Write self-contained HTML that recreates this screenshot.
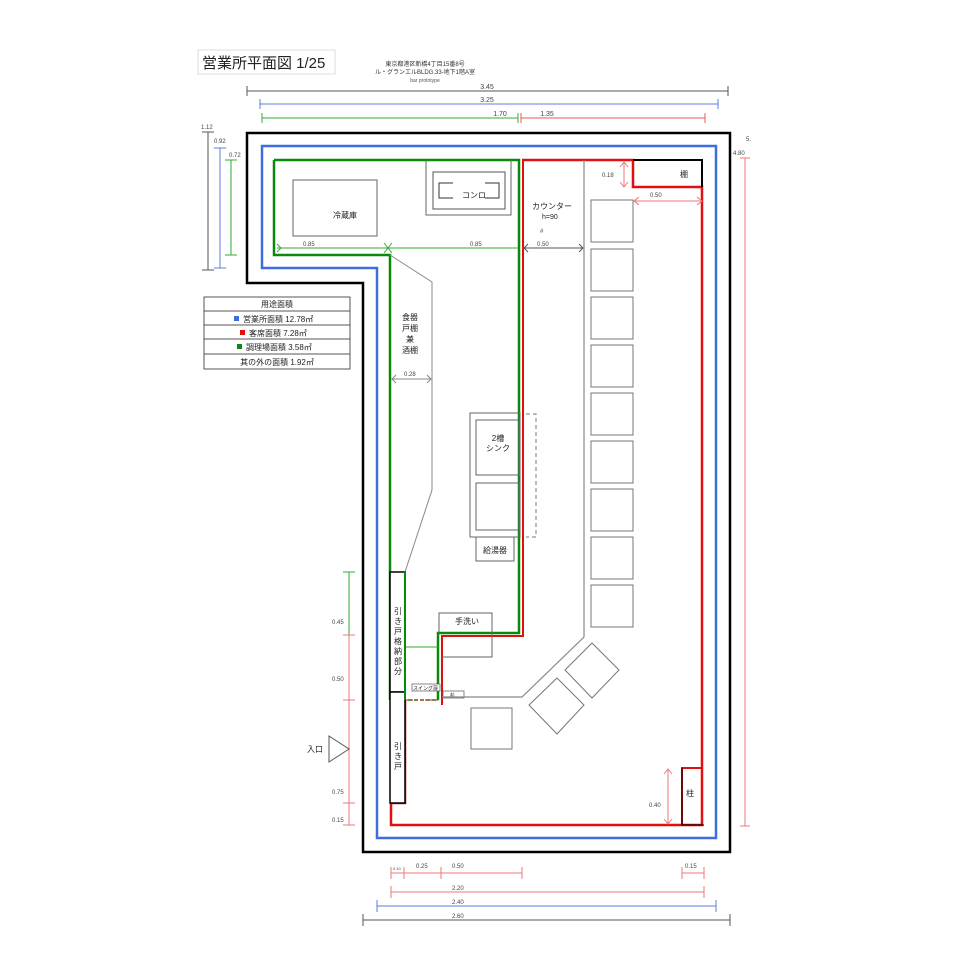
<!DOCTYPE html>
<html><head><meta charset="utf-8"><style>
html,body{margin:0;padding:0;background:#fff;}
svg{display:block;font-family:"Liberation Sans","Noto Sans CJK JP",sans-serif;}
</style></head><body>
<svg width="960" height="960" viewBox="0 0 960 960" xmlns="http://www.w3.org/2000/svg">
<rect width="960" height="960" fill="#fff"/>
<!-- title -->
<rect x="198" y="50" width="137" height="24" fill="#fff" stroke="#ddd"/>
<text x="202" y="68" font-size="15" fill="#222">営業所平面図  1/25</text>
<text x="425" y="66" font-size="6" fill="#333" text-anchor="middle">東京都港区新橋4丁目15番8号</text>
<text x="425" y="74" font-size="6" fill="#333" text-anchor="middle">ル・グランエルBLDG.33-地下1階A室</text>
<text x="425" y="82" font-size="5" fill="#555" text-anchor="middle">bar prototype</text>

<!-- top dims -->
<g stroke-width="1" fill="none">
<path d="M247 91H728M247 86V96M728 86V96" stroke="#555"/>
<path d="M260 104H718M260 99V109M718 99V109" stroke="#5b7fe0"/>
<path d="M262 118H518M262 113V123M518 113V123" stroke="#3a3"/>
<path d="M521 118H705M521 113V123M705 113V123" stroke="#e55"/>
</g>
<g font-size="7" fill="#444" text-anchor="middle">
<text x="487" y="89">3.45</text><text x="487" y="102">3.25</text>
<text x="500" y="116">1.70</text><text x="547" y="116">1.35</text>
</g>
<!-- left top dims -->
<g fill="none">
<path d="M202 132H214M208 132V270M202 270H214" stroke="#555"/>
<path d="M214 148H226M220 148V268M214 268H226" stroke="#5b7fe0"/>
<path d="M225 160H237M231 160V255M225 255H237" stroke="#3a3"/>
</g>
<g font-size="6" fill="#444"><text x="201" y="129">1.12</text><text x="214" y="143">0.92</text><text x="229" y="157">0.72</text></g>
<!-- right dims -->
<path d="M740 158H750M745 158V826M740 826H750" stroke="#e77" fill="none"/>
<text x="733" y="155" font-size="6" fill="#444">4.80</text>
<text x="746" y="141" font-size="6" fill="#444">5.</text>

<!-- black outer -->
<path d="M247 133H730V852H363V283H247Z" fill="none" stroke="#000" stroke-width="2.5"/>
<!-- blue -->
<path d="M262 146H716V838H377V268H262Z" fill="none" stroke="#3d6ee0" stroke-width="2.5"/>
<!-- green -->
<path d="M274 160H519V633H438V700M390 700V255H274V160" fill="none" stroke="#0a8a0a" stroke-width="2.5"/>
<path d="M390 700H438" stroke="#0a8a0a" stroke-width="1.5" stroke-dasharray="4,2"/>
<path d="M390 647H438" stroke="#3a3" stroke-width="1"/>
<!-- red -->
<path d="M522 160H633V187H702V825H391V803H405V700" fill="none" stroke="#e01010" stroke-width="2.5"/>
<path d="M523 160V636H442V705" fill="none" stroke="#e01010" stroke-width="2"/>
<path d="M405 700H440" stroke="#e01010" stroke-width="1" stroke-dasharray="3,2"/>
<path d="M633 160H702V187" fill="none" stroke="#000" stroke-width="2"/>
<text x="680" y="177" font-size="8" fill="#222">棚</text>
<!-- column -->
<path d="M682 825V768H702" fill="none" stroke="#e01010" stroke-width="2"/>
<path d="M682 768V825H704" fill="none" stroke="#000" stroke-width="1"/>
<text x="686" y="796" font-size="8" fill="#222">柱</text>
<path d="M668 770V823M664 774L668 769L672 774M664 819L668 824L672 819" stroke="#e77" fill="none"/>
<text x="649" y="807" font-size="6" fill="#444">0.40</text>
<path d="M624 163V186M620 167L624 162L628 167M620 182L624 187L628 182" stroke="#e77" fill="none"/>
<text x="602" y="177" font-size="6" fill="#444">0.18</text>
<path d="M634 201H702M639 197L634 201L639 205M697 197L702 201L697 205" stroke="#e77" fill="none"/>
<text x="650" y="197" font-size="6" fill="#444">0.50</text>

<!-- fridge -->
<rect x="293" y="180" width="84" height="56" fill="none" stroke="#666"/>
<text x="333" y="218" font-size="8" fill="#222">冷蔵庫</text>
<!-- konro -->
<path d="M426 160V215H511V160" fill="none" stroke="#666"/>
<rect x="433" y="172" width="72" height="37" fill="none" stroke="#555"/>
<path d="M453 183H439V198H453M485 183H499V198H485" fill="none" stroke="#333"/>
<text x="462" y="198" font-size="8" fill="#222">コンロ</text>
<!-- kitchen dims -->
<path d="M277 248H518" stroke="#3a3" fill="none"/>
<path d="M384 243L392 253M392 243L384 253M277 244L281 248L277 252" stroke="#3a3" fill="none"/>
<g font-size="6" fill="#444"><text x="303" y="246">0.85</text><text x="470" y="246">0.85</text><text x="537" y="246">0.50</text><text x="540" y="233">#</text></g>
<path d="M524 248H583M579 244L583 248L579 252M528 244L524 248L528 252" stroke="#555" fill="none"/>
<text x="532" y="209" font-size="8" fill="#222">カウンター</text>
<text x="542" y="219" font-size="7" fill="#222">h=90</text>

<!-- shelf -->
<path d="M390 255L432 282V490L405 572" fill="none" stroke="#888"/>
<g font-size="8" fill="#222" text-anchor="middle"><text x="410" y="320">食器</text><text x="410" y="331">戸棚</text><text x="410" y="342">兼</text><text x="410" y="353">酒棚</text></g>
<path d="M392 379H431M396 375L392 379L396 383M427 375L431 379L427 383" stroke="#888" fill="none"/>
<text x="404" y="376" font-size="6" fill="#444">0.28</text>

<!-- sink -->
<rect x="470" y="413" width="50" height="124" fill="none" stroke="#666"/>
<rect x="476" y="420" width="43" height="55" fill="none" stroke="#666"/>
<rect x="476" y="483" width="43" height="47" fill="none" stroke="#666"/>
<path d="M526 414H536V537H526" fill="none" stroke="#777" stroke-dasharray="4,3"/>
<text x="498" y="441" font-size="8" fill="#222" text-anchor="middle">2槽</text>
<text x="498" y="451" font-size="8" fill="#222" text-anchor="middle">シンク</text>
<rect x="476" y="537" width="38" height="24" fill="none" stroke="#666"/>
<text x="495" y="553" font-size="8" fill="#222" text-anchor="middle">給湯器</text>

<!-- sliding doors -->
<rect x="390" y="572" width="15" height="120" fill="#fff" stroke="#000" stroke-width="1.5"/>
<rect x="390" y="692" width="15" height="111" fill="#fff" stroke="#000" stroke-width="1.5"/>
<path d="M405 572V700" stroke="#0a8a0a" stroke-width="2"/>
<g font-size="8" fill="#222" text-anchor="middle"><text x="398" y="614">引</text><text x="398" y="624">き</text><text x="398" y="634">戸</text><text x="398" y="644">格</text><text x="398" y="654">納</text><text x="398" y="664">部</text><text x="398" y="674">分</text>
<text x="398" y="749">引</text><text x="398" y="759">き</text><text x="398" y="769">戸</text></g>
<!-- hand wash -->
<path d="M439 633V613H492V657H442" fill="none" stroke="#666"/>
<path d="M492 633V657H442" fill="none" stroke="#666" stroke-dasharray="5,3"/>
<text x="455" y="624" font-size="8" fill="#222">手洗い</text>
<rect x="412" y="684" width="28" height="7" fill="#fff" stroke="#555" stroke-width=".7"/>
<text x="413" y="690" font-size="5" fill="#222">スイング扉</text>
<rect x="443" y="691" width="21" height="7" fill="none" stroke="#555" stroke-width=".7"/>
<text x="450" y="697" font-size="5" fill="#222">杭</text>

<!-- counter line -->
<path d="M584 160V637L522 697H442" fill="none" stroke="#888" stroke-width="1.2"/>
<g fill="none" stroke="#777">
<rect x="591" y="200" width="42" height="42"/><rect x="591" y="249" width="42" height="42"/><rect x="591" y="297" width="42" height="42"/><rect x="591" y="345" width="42" height="42"/><rect x="591" y="393" width="42" height="42"/><rect x="591" y="441" width="42" height="42"/><rect x="591" y="489" width="42" height="42"/><rect x="591" y="537" width="42" height="42"/><rect x="591" y="585" width="42" height="42"/>
<path d="M592 643L619 670L592 698L565 670Z"/>
<path d="M557 678L584 705L557 734L529 705Z"/>
<rect x="471" y="708" width="41" height="41"/>
</g>

<!-- legend -->
<g font-size="8" fill="#222">
<rect x="204" y="297" width="146" height="72" fill="#fff" stroke="#555"/>
<path d="M204 311H350M204 325H350M204 339H350M204 354H350" stroke="#555"/>
<text x="277" y="307" text-anchor="middle">用途面積</text>
<rect x="234" y="316" width="5" height="5" fill="#3d6ee0"/><text x="243" y="322">営業所面積  12.78㎡</text>
<rect x="240" y="330" width="5" height="5" fill="#e01010"/><text x="249" y="336">客席面積  7.28㎡</text>
<rect x="237" y="344" width="5" height="5" fill="#0a8a0a"/><text x="246" y="350">調理場面積  3.58㎡</text>
<text x="277" y="365" text-anchor="middle">其の外の面積  1.92㎡</text>
</g>

<!-- left bottom dims -->
<path d="M343 572H355M349 572V635" stroke="#3a3" fill="none"/>
<path d="M343 635H355M349 635V825M343 700H355M343 803H355M343 825H355" stroke="#e77" fill="none"/>
<g font-size="6" fill="#444"><text x="332" y="624">0.45</text><text x="332" y="681">0.50</text><text x="332" y="794">0.75</text><text x="332" y="822">0.15</text></g>
<path d="M329 736L349 749L329 762Z" fill="#fff" stroke="#555"/>
<text x="307" y="752" font-size="8" fill="#222">入口</text>

<!-- bottom dims -->
<g fill="none">
<path d="M391 873H522M391 867V879M404 867V879M441 867V879M522 867V879M682 873H704M682 867V879M704 867V879" stroke="#e77"/>
<path d="M391 892H704M391 886V898M704 886V898" stroke="#e77"/>
<path d="M377 906H716M377 900V912M716 900V912" stroke="#5b7fe0"/>
<path d="M363 920H730M363 914V926M730 914V926" stroke="#555"/>
</g>
<g font-size="6" fill="#444"><text x="393" y="870" font-size="4">0.10</text><text x="416" y="868">0.25</text><text x="452" y="868">0.50</text><text x="685" y="868">0.15</text>
<text x="452" y="890">2.20</text><text x="452" y="904">2.40</text><text x="452" y="918">2.60</text></g>
</svg>
</body></html>
